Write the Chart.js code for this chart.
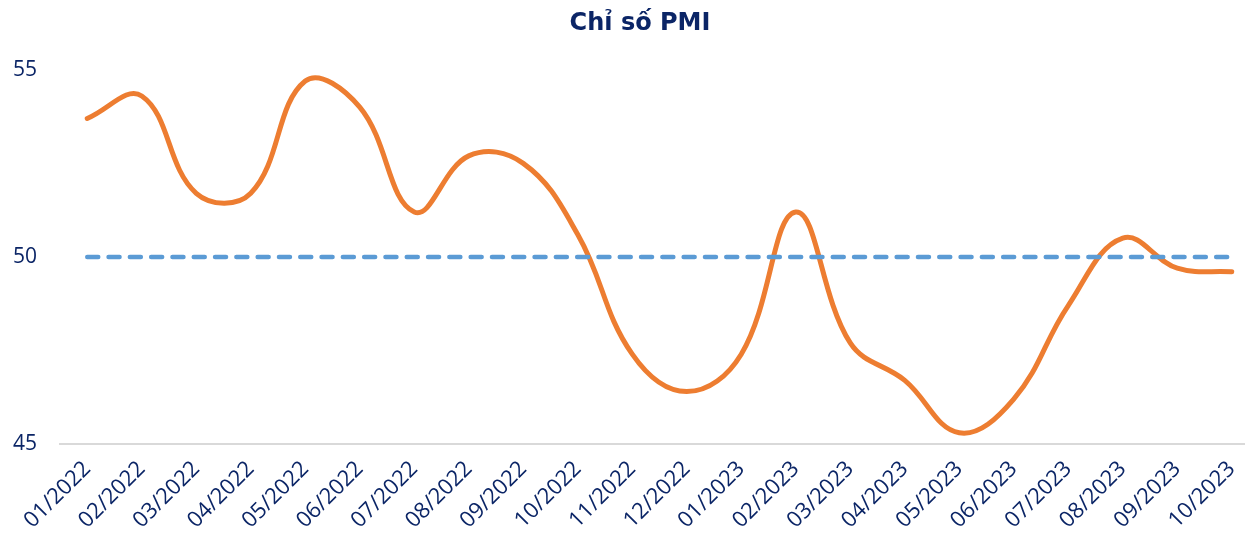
<!DOCTYPE html>
<html>
<head>
<meta charset="utf-8">
<script src="https://cdn.jsdelivr.net/npm/chart.js@4.4.1/dist/chart.umd.min.js"></script>
<style>
  html, body { margin: 0; padding: 0; background: #ffffff; overflow: hidden; }
  #wrap { width: 1280px; height: 540px; position: relative; }
</style>
</head>
<body>
<div id="wrap"><canvas id="pmiChart" width="1280" height="540"></canvas></div>
<script>
// Monthly PMI readings
const months = [
  '01/2022', '02/2022', '03/2022', '04/2022', '05/2022', '06/2022',
  '07/2022', '08/2022', '09/2022', '10/2022', '11/2022', '12/2022',
  '01/2023', '02/2023', '03/2023', '04/2023', '05/2023', '06/2023',
  '07/2023', '08/2023', '09/2023', '10/2023'
];
const pmiValues = [
  53.7, 54.3, 51.7, 51.7, 54.7, 54.0,
  51.2, 52.7, 52.5, 50.6, 47.4, 46.4,
  47.4, 51.2, 47.7, 46.7, 45.3, 46.2,
  48.7, 50.5, 49.7, 49.6
];
// 50-point expansion / contraction threshold
const thresholdValues = [
  50, 50, 50, 50, 50, 50, 50, 50, 50, 50, 50,
  50, 50, 50, 50, 50, 50, 50, 50, 50, 50, 50
];
const yTickValues = [45, 50, 55];

const navy = '#0B2566';
const fontFamily = "'Open Sans', 'Noto Sans', sans-serif";

new Chart(document.getElementById('pmiChart'), {
  type: 'line',
  data: {
    labels: months,
    datasets: [
      {
        label: 'Ngưỡng 50',
        data: thresholdValues,
        borderColor: '#5B9BD5',
        borderWidth: 4.5,
        borderDash: [11, 10.3],
        borderCapStyle: 'round',
        tension: 0,
        pointRadius: 0,
        fill: false
      },
      {
        label: 'PMI',
        data: pmiValues,
        borderColor: '#ED7D31',
        borderWidth: 5,
        borderCapStyle: 'round',
        borderJoinStyle: 'round',
        tension: 0.4,
        pointRadius: 0,
        fill: false
      }
    ]
  },
  options: {
    responsive: false,
    animation: false,
    devicePixelRatio: 1,
    layout: { padding: 0 },
    plugins: {
      legend: { display: false },
      tooltip: { enabled: false },
      title: {
        display: true,
        text: 'Chỉ số PMI',
        color: navy,
        font: { family: "'DejaVu Sans', sans-serif", size: 24, weight: 'bold' },
        padding: { top: 9, bottom: 32 }
      }
    },
    scales: {
      x: {
        offset: true,
        grid: { display: false, drawTicks: false },
        border: { display: true, color: '#D9D9D9', width: 2 },
        ticks: {
          autoSkip: false,
          maxRotation: 45,
          minRotation: 45,
          color: navy,
          font: { family: fontFamily, size: 22 },
          padding: 12
        },
        afterFit: (scale) => { scale.height = 96; }
      },
      y: {
        min: 45,
        max: 55,
        afterBuildTicks: (scale) => { scale.ticks = yTickValues.map(v => ({ value: v })); },
        grid: { display: false, drawTicks: false },
        border: { display: false },
        ticks: { color: navy, font: { family: fontFamily, size: 21 }, padding: 23 },
        afterFit: (scale) => { scale.width = 60; }
      },
      // empty right-hand margin so the plot runs past the visible edge
      yMargin: {
        type: 'linear',
        axis: 'y',
        position: 'right',
        display: true,
        grid: { display: false, drawTicks: false },
        border: { display: false },
        ticks: { display: false },
        afterFit: (scale) => { scale.width = 21; }
      }
    }
  }
});
</script>
</body>
</html>
